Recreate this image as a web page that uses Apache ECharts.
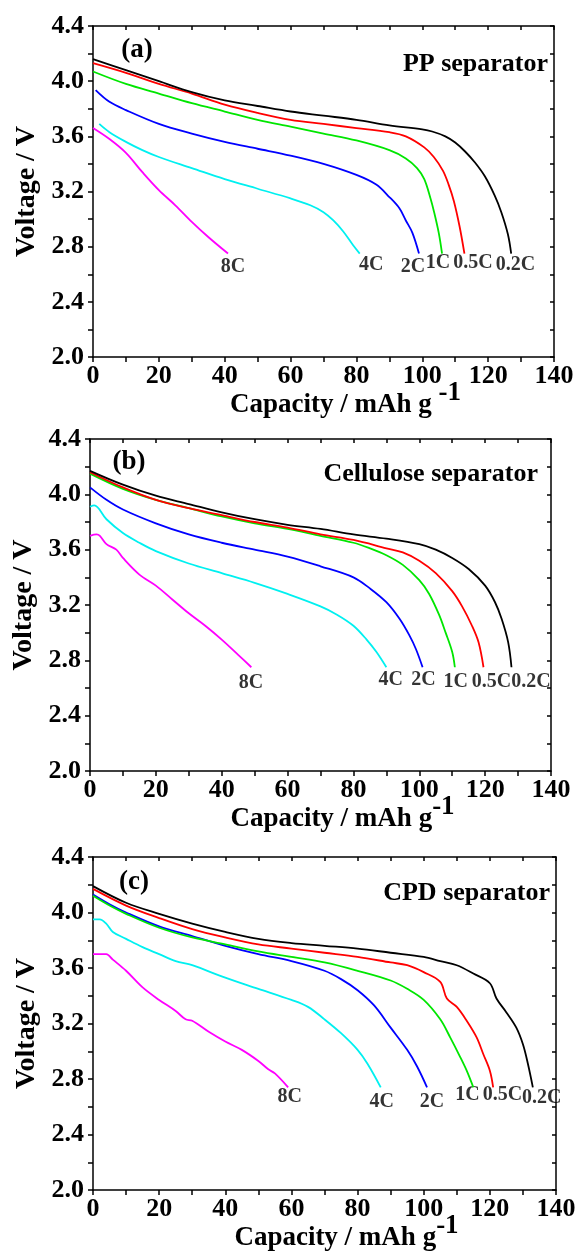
<!DOCTYPE html>
<html>
<head>
<meta charset="utf-8">
<script src="https://cdn.jsdelivr.net/npm/echarts@6/dist/echarts.min.js"></script>
<style>
html,body{margin:0;padding:0;background:#fff}
#main{width:578px;height:1254px}
</style>
</head>
<body>
<div id="main"></div>
<script>
// discharge curves [capacity mAh/g, voltage V]
var pp02=[[0,4.16],[10,4.08],[20,4.00],[30,3.92],[40,3.86],[50,3.82],[60,3.78],[70,3.75],[80,3.72],[90,3.68],[100,3.65],[103,3.635],[107,3.60],[110,3.555],[113,3.49],[116,3.41],[119,3.31],[122,3.17],[124,3.05],[126,2.89],[127,2.75]]
var pp05=[[0,4.13],[10,4.06],[20,3.98],[30,3.91],[40,3.83],[50,3.77],[60,3.72],[70,3.69],[80,3.66],[90,3.63],[95,3.60],[100.6,3.52],[103.5,3.45],[106.3,3.35],[108,3.25],[109.6,3.13],[111.3,2.95],[112.8,2.75]]
var pp1=[[0,4.07],[10,3.98],[20,3.91],[30,3.84],[40,3.78],[50,3.72],[60,3.67],[70,3.62],[80,3.57],[90,3.50],[95,3.44],[98.4,3.37],[100.6,3.29],[102.5,3.15],[103.6,3.05],[105,2.90],[106,2.75]]
var pp2=[[0.8,3.935],[5,3.85],[10,3.79],[20,3.69],[30,3.62],[40,3.56],[50,3.51],[60,3.46],[70,3.40],[80,3.32],[86,3.25],[90,3.16],[93,3.08],[95,2.99],[97,2.90],[99,2.75]]
var pp4=[[1.9,3.69],[5,3.63],[10,3.56],[15,3.50],[20,3.45],[30,3.37],[40,3.29],[50,3.22],[60,3.15],[66,3.10],[70,3.05],[73,2.99],[76,2.91],[79,2.81],[81,2.75]]
var pp8=[[0,3.66],[5,3.58],[10,3.48],[15,3.34],[20,3.21],[25,3.10],[30,2.98],[35,2.87],[41,2.75]]

var cel02=[[0,4.17],[10,4.07],[20,3.99],[30,3.93],[40,3.87],[50,3.82],[60,3.78],[70,3.75],[80,3.71],[90,3.68],[100,3.64],[105,3.60],[110,3.54],[115,3.46],[120,3.34],[123,3.22],[125,3.10],[127,2.93],[128,2.75]]
var cel05=[[0,4.16],[10,4.05],[20,3.96],[30,3.90],[40,3.85],[50,3.80],[60,3.76],[70,3.71],[80,3.67],[90,3.61],[95,3.58],[100,3.52],[105,3.43],[110,3.30],[113,3.19],[116,3.05],[118,2.93],[119.5,2.75]]
var cel1=[[0,4.15],[10,4.04],[20,3.96],[30,3.90],[40,3.84],[50,3.79],[60,3.75],[70,3.70],[80,3.65],[85,3.61],[90,3.56],[95,3.49],[100,3.38],[103,3.28],[106,3.13],[108,3.00],[110,2.86],[110.8,2.75]]
var cel2=[[0,4.05],[5,3.96],[10,3.89],[20,3.79],[30,3.71],[40,3.65],[50,3.60],[60,3.55],[70,3.48],[80,3.40],[85,3.32],[90,3.22],[94,3.10],[97,2.98],[99,2.88],[101,2.75]]
var cel4=[[0,3.91],[1.3,3.92],[5,3.82],[10,3.72],[15,3.65],[20,3.59],[30,3.50],[40,3.43],[50,3.36],[60,3.28],[70,3.19],[75,3.13],[80,3.05],[84,2.95],[87,2.86],[90,2.75]]
var cel8=[[0,3.70],[2,3.71],[3,3.70],[5,3.64],[8,3.60],[10,3.54],[15,3.42],[20,3.34],[25,3.24],[30,3.14],[35,3.05],[40,2.95],[45,2.84],[49,2.75]]

var cpd02=[[0,4.19],[10,4.07],[20,3.99],[30,3.92],[40,3.86],[50,3.81],[60,3.78],[70,3.76],[80,3.74],[90,3.71],[100,3.68],[105,3.65],[110,3.62],[115,3.56],[120,3.49],[122,3.38],[125,3.28],[128,3.17],[130,3.05],[131.5,2.91],[133,2.74]]
var cpd05=[[0,4.17],[10,4.05],[20,3.96],[30,3.88],[40,3.82],[50,3.77],[60,3.74],[70,3.71],[80,3.68],[90,3.64],[95,3.62],[100,3.57],[105,3.50],[107,3.38],[110,3.32],[113,3.22],[116,3.10],[118,2.98],[120,2.86],[121,2.74]]
var cpd1=[[0,4.12],[5,4.05],[10,3.99],[20,3.89],[30,3.82],[40,3.77],[50,3.72],[60,3.68],[70,3.64],[80,3.58],[90,3.51],[95,3.45],[100,3.37],[105,3.23],[108,3.10],[111,2.96],[113,2.86],[115,2.74]]
var cpd2=[[0,4.13],[5,4.06],[10,4.00],[20,3.90],[30,3.83],[40,3.76],[50,3.70],[60,3.65],[70,3.58],[75,3.52],[80,3.44],[85,3.33],[90,3.17],[95,3.01],[98,2.89],[101,2.74]]
var cpd4=[[0,3.95],[2,3.95],[4,3.92],[6,3.86],[10,3.81],[15,3.75],[20,3.70],[25,3.65],[30,3.62],[40,3.53],[50,3.45],[60,3.37],[65,3.32],[70,3.23],[75,3.13],[80,3.01],[83,2.91],[87,2.74]]
var cpd8=[[0,3.70],[4,3.70],[6,3.66],[10,3.58],[15,3.46],[20,3.37],[25,3.29],[28,3.23],[30,3.22],[35,3.14],[40,3.07],[45,3.01],[50,2.93],[53,2.87],[55,2.84],[59,2.74]]

var rateNames=['0.2C','0.5C','1C','2C','4C','8C']
var rateColors=['#000000','#ff0000','#00e600','#0000ff','#00f0f0','#ff00ff']

// where the rate labels sit (capacity, voltage)
var ppLabelCap=[128.3,115.4,104.8,97.2,84.5,42.5]
var ppLabelV=[2.665,2.682,2.682,2.653,2.665,2.653]
var celLabelCap=[133.9,121.9,111.1,101.3,91.3,48.9]
var celLabelV=[2.643,2.643,2.643,2.658,2.658,2.638]
var cpdLabelCap=[135.7,123.8,113.2,102.5,87.3,59.5]
var cpdLabelV=[2.661,2.685,2.685,2.636,2.636,2.672]

var xTicks=[0,20,40,60,80,100,120,140]
var yTicks=['2.0','2.4','2.8','3.2','3.6','4.0','4.4']

var F='Liberation Serif'
var panels=[
	{curves:[pp02,pp05,pp1,pp2,pp4,pp8],lc:ppLabelCap,lv:ppLabelV,tag:'(a)',title:'PP separator',sup:' -1',
	 grid:{left:93,top:26,width:461,height:331},tagPos:[137,50],titlePos:[548,64]},
	{curves:[cel02,cel05,cel1,cel2,cel4,cel8],lc:celLabelCap,lv:celLabelV,tag:'(b)',title:'Cellulose separator',sup:'-1',
	 grid:{left:90,top:439,width:461,height:332},tagPos:[129,462],titlePos:[538,474]},
	{curves:[cpd02,cpd05,cpd1,cpd2,cpd4,cpd8],lc:cpdLabelCap,lv:cpdLabelV,tag:'(c)',title:'CPD separator',sup:'-1',
	 grid:{left:93,top:857,width:463,height:333},tagPos:[134,882],titlePos:[550,893]}
]

var line={color:'#000',width:1.5}
var grids=[],xAxes=[],yAxes=[],series=[],texts=[]
panels.forEach(function(p,g){
	grids.push(Object.assign({outerBoundsMode:'none',containLabel:false},p.grid))
	xAxes.push({
		gridIndex:g,type:'value',min:0,max:140,interval:10,position:'bottom',
		axisLine:{onZero:false,lineStyle:line},
		axisTick:{inside:false,length:5,lineStyle:line},
		axisLabel:{margin:6,color:'#000',fontFamily:F,fontWeight:'bold',fontSize:26,
			formatter:function(v){return xTicks.indexOf(v)>=0?String(v):''}},
		splitLine:{show:false},
		name:'{a|Capacity / mAh g}{s|'+p.sup+'}',nameLocation:'middle',nameGap:34,nameMoveOverlap:false,
		nameTextStyle:{padding:[0,0,0,44],rich:{
			a:{fontFamily:F,fontWeight:'bold',fontSize:27,color:'#000',verticalAlign:'bottom',lineHeight:28},
			s:{fontFamily:F,fontWeight:'bold',fontSize:27,color:'#000',verticalAlign:'bottom',lineHeight:28,padding:[0,0,12,0]}
		}}
	})
	xAxes.push({
		gridIndex:g,type:'value',min:0,max:140,interval:10,position:'top',
		axisLine:{onZero:false,lineStyle:line},
		axisTick:{inside:true,length:4,lineStyle:line},
		axisLabel:{show:false},splitLine:{show:false}
	})
	yAxes.push({
		gridIndex:g,type:'value',min:2.0,max:4.4,interval:0.2,position:'left',
		axisLine:{onZero:false,lineStyle:line},
		axisTick:{inside:false,length:5,lineStyle:line},
		axisLabel:{margin:9,color:'#000',fontFamily:F,fontWeight:'bold',fontSize:26,
			formatter:function(v){var s=v.toFixed(1);return yTicks.indexOf(s)>=0?s:''}},
		splitLine:{show:false},
		name:'Voltage / V',nameLocation:'middle',nameGap:52,nameMoveOverlap:false,
		nameTextStyle:{fontFamily:F,fontWeight:'bold',fontSize:28,color:'#000'}
	})
	yAxes.push({
		gridIndex:g,type:'value',min:2.0,max:4.4,interval:0.2,position:'right',
		axisLine:{onZero:false,lineStyle:line},
		axisTick:{inside:true,length:4,lineStyle:line},
		axisLabel:{show:false},splitLine:{show:false}
	})
	p.curves.forEach(function(c,i){
		series.push({
			type:'line',name:rateNames[i],xAxisIndex:2*g,yAxisIndex:2*g,data:c,
			showSymbol:false,symbol:'none',smooth:0.35,
			lineStyle:{color:rateColors[i],width:1.8},z:10-i
		})
	})
	series.push({
		type:'scatter',xAxisIndex:2*g,yAxisIndex:2*g,symbolSize:1,silent:true,
		itemStyle:{color:'rgba(0,0,0,0)'},
		data:rateNames.map(function(n,i){return {name:n,value:[p.lc[i],p.lv[i]]}}),
		label:{show:true,position:'inside',formatter:'{b}',color:'#000',fontFamily:F,fontWeight:'bold',fontSize:20}
	})
	texts.push({type:'text',x:p.tagPos[0],y:p.tagPos[1],
		style:{text:p.tag,font:'bold 27px "Liberation Serif"',fill:'#000',align:'center',verticalAlign:'middle'}})
	texts.push({type:'text',x:p.titlePos[0],y:p.titlePos[1],
		style:{text:p.title,font:'bold 26px "Liberation Serif"',fill:'#000',align:'right',verticalAlign:'middle'}})
})

var mychart=echarts.init(document.getElementById('main'))
mychart.setOption({
	animation:false,
	backgroundColor:'#fff',
	grid:grids,
	xAxis:xAxes,
	yAxis:yAxes,
	series:series,
	graphic:texts
})
</script>
</body>
</html>
